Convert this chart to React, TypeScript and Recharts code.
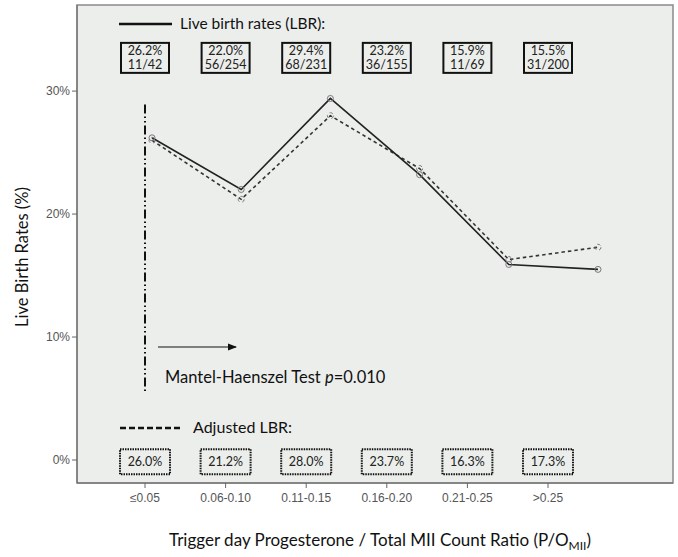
import React from "react";
import {
  LineChart,
  Line,
  XAxis,
  YAxis,
  ReferenceDot,
  ReferenceLine,
  Customized,
} from "recharts";

// P/O_MII ratio groups
const CATEGORIES = ["≤0.05", "0.06-0.10", "0.11-0.15", "0.16-0.20", "0.21-0.25", ">0.25"];
// crude live birth rates (%)
const LBR = [26.2, 22.0, 29.4, 23.2, 15.9, 15.5];
// live births / cycles
const BIRTHS = [11, 56, 68, 36, 11, 31];
const CYCLES = [42, 254, 231, 155, 69, 200];
// adjusted live birth rates (%)
const ADJ_LBR = [26.0, 21.2, 28.0, 23.7, 16.3, 17.3];
const Y_TICKS = [0, 10, 20, 30];

const data = CATEGORIES.map((cat, i) => ({
  cat,
  lbr: LBR[i],
  adj: ADJ_LBR[i],
  births: BIRTHS[i],
  cycles: CYCLES[i],
}));

const FONT = "Lato, 'Open Sans', sans-serif";
const TICK_FONT = "'Liberation Sans', Arial, sans-serif";
const BG = "#eceeec";

const TopBox = (d: (typeof data)[number]) => (props: any) => {
  const { cx, cy } = props;
  return (
    <g>
      <rect x={cx - 24} y={cy - 15} width={48} height={30} fill={BG} stroke="#111" strokeWidth={2} />
      <text x={cx} y={cy - 3} textAnchor="middle" fontFamily={FONT} fontSize={12.5} fill="#222">
        {d.lbr.toFixed(1)}%
      </text>
      <text x={cx} y={cy + 11} textAnchor="middle" fontFamily={FONT} fontSize={12.5} fill="#222">
        {d.births}/{d.cycles}
      </text>
    </g>
  );
};

const BottomBox = (d: (typeof data)[number]) => (props: any) => {
  const { cx, cy } = props;
  return (
    <g>
      <rect
        x={cx - 25}
        y={cy - 12}
        width={50}
        height={25}
        fill={BG}
        stroke="#111"
        strokeWidth={2}
        strokeDasharray="1.5 1"
      />
      <text x={cx} y={cy + 5} textAnchor="middle" fontFamily={FONT} fontSize={12.5} fill="#222">
        {d.adj.toFixed(1)}%
      </text>
    </g>
  );
};

const Annotations = () => (
  <g>
    <defs>
      <marker id="arrowHead" markerWidth="8" markerHeight="6" refX="7" refY="3" orient="auto">
        <path d="M0,0 L8,3 L0,6 Z" fill="#111" />
      </marker>
    </defs>
    {/* plot frame */}
    <rect x={77} y={5} width={596} height={478} fill="none" stroke="#8a8a8a" strokeWidth={1.5} />
    {/* legend: live birth rates */}
    <line x1={119} y1={24} x2={172} y2={24} stroke="#111" strokeWidth={2.5} />
    <text x={180} y={29} fontFamily={FONT} fontSize={15.5} fill="#111">
      Live birth rates (LBR):
    </text>
    {/* legend: adjusted */}
    <line x1={120} y1={428} x2={180} y2={428} stroke="#111" strokeWidth={2.5} strokeDasharray="6 3" />
    <text x={193} y={433} fontFamily={FONT} fontSize={16} fill="#111">
      Adjusted LBR:
    </text>
    {/* trend arrow + test */}
    <line x1={158} y1={347} x2={236} y2={347} stroke="#111" strokeWidth={1.2} markerEnd="url(#arrowHead)" />
    <text x={165} y={383} fontFamily={FONT} fontSize={16.5} fill="#111">
      Mantel-Haenszel Test <tspan fontStyle="italic">p</tspan>=0.010
    </text>
    {/* axis titles */}
    <text
      x={28}
      y={257}
      transform="rotate(-90 28 257)"
      textAnchor="middle"
      fontFamily={FONT}
      fontSize={16.5}
      fill="#111"
    >
      Live Birth Rates (%)
    </text>
    <text x={380} y={546} textAnchor="middle" fontFamily={FONT} fontSize={17} fill="#111">
      Trigger day Progesterone / Total MII Count Ratio (P/O
      <tspan fontSize={12} dy={4}>MII</tspan>
      <tspan dy={-4}>)</tspan>
    </text>
  </g>
);

// plot-area fill, drawn before the lines
const PlotBackground = () => <rect x={77} y={5} width={596} height={478} fill={BG} />;

export default function App() {
  return (
    <div style={{ position: "absolute", left: 0, top: 0, width: 678, height: 557, background: "#fff" }}>
      <LineChart width={678} height={557} data={data} margin={{ top: 5, right: 5, bottom: 0, left: 0 }}>
        <Customized component={PlotBackground} />
        <XAxis
          xAxisId="tick"
          dataKey="cat"
          type="category"
          padding={{ left: 68, right: 125 }}
          height={74}
          tickSize={5}
          tickMargin={5}
          stroke="#666"
          tick={{ fontFamily: TICK_FONT, fontSize: 12, fill: "#555" }}
        />
        <XAxis xAxisId="pts" dataKey="cat" type="category" padding={{ left: 75, right: 75 }} hide height={0} />
        <YAxis
          width={77}
          domain={[-1.87, 37]}
          ticks={Y_TICKS}
          tickFormatter={(v: number) => `${v}%`}
          tickSize={5}
          tickMargin={2}
          stroke="#666"
          tick={{ fontFamily: TICK_FONT, fontSize: 12, fill: "#555" }}
          allowDataOverflow
        />
        <ReferenceLine
          xAxisId="tick"
          segment={[
            { x: CATEGORIES[0], y: 28.9 },
            { x: CATEGORIES[0], y: 5.5 },
          ]}
          stroke="#111"
          strokeWidth={2}
          strokeDasharray="9 3 1.5 3 1.5 3"
        />
        <Line
          xAxisId="pts"
          dataKey="adj"
          stroke="#333"
          strokeWidth={1.6}
          strokeDasharray="3.5 3"
          dot={{ r: 3, stroke: "#777", strokeWidth: 1, fill: "none" }}
          isAnimationActive={false}
        />
        <Line
          xAxisId="pts"
          dataKey="lbr"
          stroke="#222"
          strokeWidth={1.6}
          dot={{ r: 3, stroke: "#777", strokeWidth: 1, fill: "none" }}
          isAnimationActive={false}
        />
        {data.map((d) => (
          <ReferenceDot key={`t${d.cat}`} xAxisId="tick" x={d.cat} y={32.7} ifOverflow="visible" shape={TopBox(d)} />
        ))}
        {data.map((d) => (
          <ReferenceDot key={`b${d.cat}`} xAxisId="tick" x={d.cat} y={-0.1} ifOverflow="visible" shape={BottomBox(d)} />
        ))}
        <Customized component={Annotations} />
      </LineChart>
    </div>
  );
}
